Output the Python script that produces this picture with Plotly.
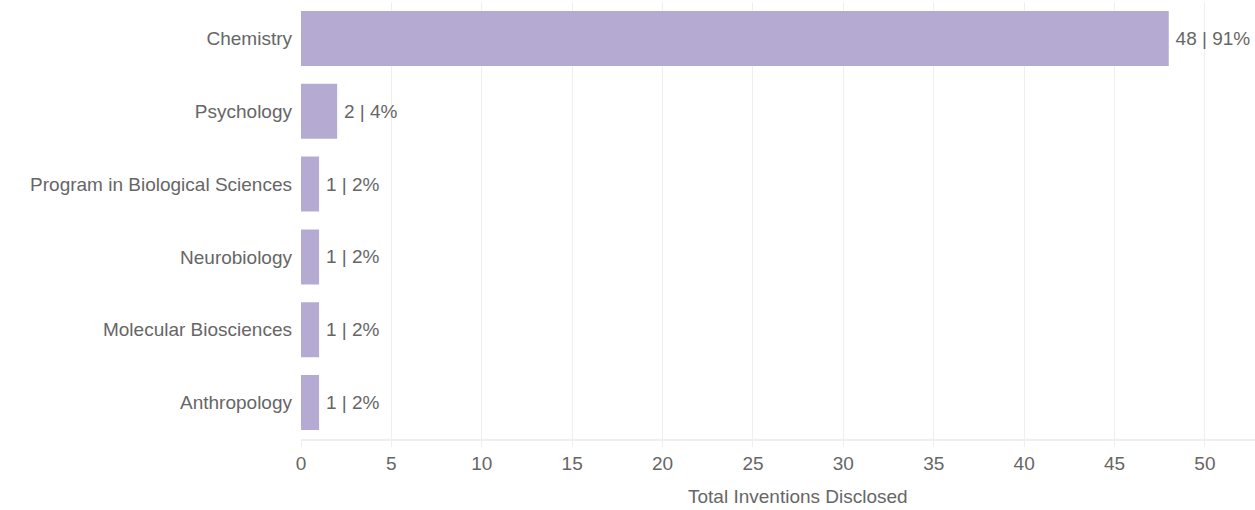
import plotly.graph_objects as go

departments = [
    "Anthropology",
    "Molecular Biosciences",
    "Neurobiology",
    "Program in Biological Sciences",
    "Psychology",
    "Chemistry",
]
inventions = [1, 1, 1, 1, 2, 48]
shares = [2, 2, 2, 2, 4, 91]
x_ticks = [0, 5, 10, 15, 20, 25, 30, 35, 40, 45, 50]

# thin space keeps the value labels a little clear of the bar ends
labels = [f"\u2009{v} | {p}%" for v, p in zip(inventions, shares)]

FONT = "Liberation Sans"
SIZE = 19
GREY = "#666666"

fig = go.Figure(
    go.Bar(
        x=inventions,
        y=departments,
        orientation="h",
        marker=dict(color="#b5abd2", line=dict(width=0)),
        width=0.755,
        text=labels,
        textposition="outside",
        cliponaxis=False,
        textfont=dict(family=FONT, size=SIZE, color=GREY),
        hoverinfo="skip",
    )
)

fig.update_layout(
    width=1255,
    height=510,
    margin=dict(l=301, r=0, t=2, b=71),
    paper_bgcolor="white",
    plot_bgcolor="white",
    font=dict(family=FONT, size=SIZE, color=GREY),
    showlegend=False,
)

fig.update_xaxes(
    range=[0, 52.77],
    tickvals=x_ticks,
    showgrid=True,
    gridcolor="#efefef",
    gridwidth=1,
    zeroline=False,
    showline=True,
    linecolor="#efefef",
    linewidth=2,
    ticks="outside",
    ticklen=6,
    tickcolor="#efefef",
    tickfont=dict(family=FONT, size=SIZE, color=GREY),
)
fig.update_yaxes(
    showgrid=False,
    zeroline=False,
    showline=False,
    ticks="",
    ticklabelstandoff=8,
    tickfont=dict(family=FONT, size=SIZE, color=GREY),
)

# Axis title centred on the 0-55 span of the value scale
fig.add_annotation(
    text="Total Inventions Disclosed",
    x=27.5,
    xref="x",
    y=0,
    yref="paper",
    yanchor="middle",
    yshift=-57,
    showarrow=False,
    font=dict(family=FONT, size=SIZE, color=GREY),
)

fig.write_html("out.html")
